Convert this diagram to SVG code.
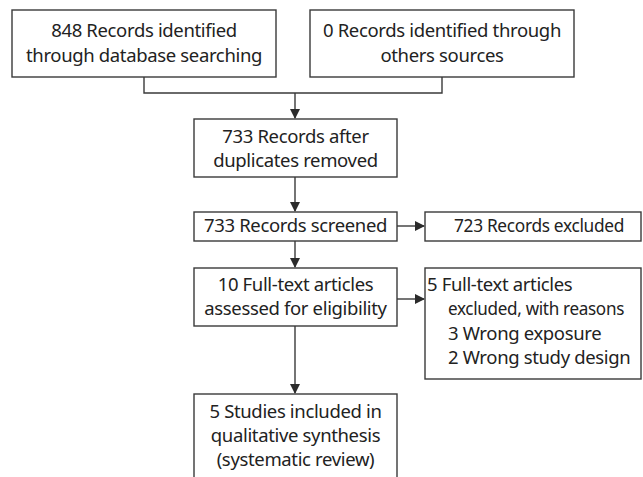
<svg xmlns="http://www.w3.org/2000/svg" width="643" height="477" viewBox="0 0 643 477">
<defs>
<marker id="ah" markerWidth="10" markerHeight="10" refX="9" refY="5" orient="auto" markerUnits="userSpaceOnUse">
<path d="M0,0 L10,5 L0,10 Z" fill="#2b2b2b"/>
</marker>
<style>
.box{fill:#fff;stroke:#3a3a3a;stroke-width:1.4}
.t{font-family:"Noto Sans","Open Sans",sans-serif;font-size:18.5px;fill:#222;letter-spacing:-0.35px}
.c{text-anchor:middle}
.ln{fill:none;stroke:#3a3a3a;stroke-width:1.4}
</style>
</defs>
<rect width="643" height="477" fill="#fff"/>
<g id="connectors">
<path class="ln" d="M144,77 V93 H442 V77"/>
<path class="ln" d="M295,93 V118" marker-end="url(#ah)"/>
<path class="ln" d="M295,177 V211" marker-end="url(#ah)"/>
<path class="ln" d="M397,226 H424" marker-end="url(#ah)"/>
<path class="ln" d="M295,241 V267" marker-end="url(#ah)"/>
<path class="ln" d="M397,299 H424" marker-end="url(#ah)"/>
<path class="ln" d="M295,326 V393" marker-end="url(#ah)"/>
</g>
<g id="db">
<rect class="box" x="12" y="10" width="264" height="67"/>
<text class="t c" x="144" y="37">848 Records identified</text>
<text class="t c" x="144" y="62">through database searching</text>
</g>
<g id="other">
<rect class="box" x="310" y="10" width="264" height="67"/>
<text class="t c" x="442" y="37">0 Records identified through</text>
<text class="t c" x="442" y="62">others sources</text>
</g>
<g id="dups">
<rect class="box" x="194" y="119" width="203" height="58"/>
<text class="t c" x="295.5" y="143">733 Records after</text>
<text class="t c" x="295.5" y="167">duplicates removed</text>
</g>
<g id="screened">
<rect class="box" x="194" y="212" width="203" height="29"/>
<text class="t c" x="295.5" y="232">733 Records screened</text>
</g>
<g id="excluded">
<rect class="box" x="425" y="212" width="216" height="29"/>
<text class="t" x="454" y="232" textLength="170" lengthAdjust="spacingAndGlyphs">723 Records excluded</text>
</g>
<g id="fulltext">
<rect class="box" x="194" y="268" width="203" height="58"/>
<text class="t c" x="295.5" y="291">10 Full-text articles</text>
<text class="t c" x="295.5" y="315">assessed for eligibility</text>
</g>
<g id="ftexcluded">
<rect class="box" x="425" y="268" width="216" height="111"/>
<text class="t" x="427" y="291">5 Full-text articles</text>
<text class="t" x="448" y="315" textLength="176" lengthAdjust="spacingAndGlyphs">excluded, with reasons</text>
<text class="t" x="448" y="340">3 Wrong exposure</text>
<text class="t" x="448" y="364">2 Wrong study design</text>
</g>
<g id="included">
<rect class="box" x="194" y="394" width="203" height="90"/>
<text class="t c" x="295.5" y="418">5 Studies included in</text>
<text class="t c" x="295.5" y="442">qualitative synthesis</text>
<text class="t c" x="295.5" y="466">(systematic review)</text>
</g>
</svg>
